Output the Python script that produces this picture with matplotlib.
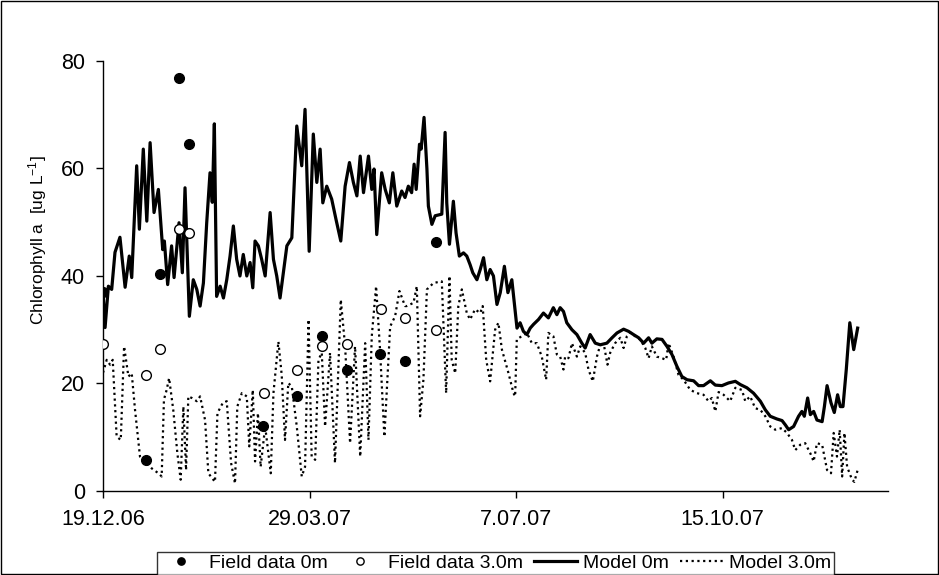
import matplotlib
matplotlib.use("Agg")
import matplotlib.pyplot as plt
from matplotlib.patches import Rectangle

plt.rcParams['font.family'] = ['Liberation Sans', 'DejaVu Sans']
plt.rcParams['mathtext.default'] = 'regular'

# days since 19.12.06
tick_days = [0, 100, 200, 300]
tick_labels = ['19.12.06', '29.03.07', '7.07.07', '15.10.07']

# field samples
f0_day = [0, 21, 27.6, 36.6, 41.6, 77.6, 94, 106, 118, 134, 146, 161]
f0_val = [37.0, 5.8, 40.3, 76.8, 64.5, 12.1, 17.6, 28.8, 22.6, 25.4, 24.2, 46.4]
f3_day = [0, 20.7, 27.6, 36.6, 41.8, 78, 94, 106, 118, 134.5, 146, 161]
f3_val = [27.4, 21.6, 26.5, 48.8, 48.0, 18.2, 22.6, 27.0, 27.4, 33.8, 32.2, 30.0]

# model, surface
m0_day = [0, 1, 2.6, 4.2, 5.8, 8.2, 10.7, 12.7, 13.9, 16.3, 17.6, 19.5, 21.2, 22.8,
          24.7, 26.8, 28.9, 29.7, 31.3, 33.2, 34.4, 36.8, 38.4, 39.7, 41.8, 43.7,
          45.4, 47, 48.6, 50.2, 51.8, 52.9, 53.9, 55, 56.7, 58.3, 59.9, 61.5, 63.1,
          64.7, 66.3, 67.9, 69.6, 71.2, 72.5, 73.6, 75.2, 76.8, 78.5, 80.9, 82.5,
          84.1, 85.7, 87.3, 89, 91.4, 93.8, 96.2, 97.8, 99.8, 101.8, 103.5, 105.1,
          106.4, 108.3, 110.7, 112.8, 115.1, 117.2, 119.3, 121.2, 122.9, 124.5,
          126.1, 128.5, 130.1, 131.2, 132.5, 134.9, 136.6, 138.6, 140.3, 142.2,
          144.6, 146.2, 147.8, 149.4, 150.6, 151.6, 153.2, 154, 155.4, 156.8, 157.5,
          159.2, 160.8, 164, 165.6, 166.4, 167.7, 169.6, 170.9, 172.5, 174.5, 176.1,
          177.7, 179, 181, 182.6, 184.2, 185.8, 187.4, 189, 190.7, 192.3, 194.3, 196,
          197.9, 200.4, 201.9, 203.5, 205.2, 206.8, 208.4, 210.8, 213.2, 215.6, 218,
          219.7, 221.3, 222.9, 224.5, 227, 229.4, 231.8, 233.4, 235.8, 238.3, 240.7,
          243.9, 246.4, 248.8, 252, 254.4, 256.8, 259.3, 261.7, 264.1, 265.7, 268.1,
          270.6, 273, 275.4, 277.8, 280.2, 282.7, 285.9, 288.3, 290.7, 294, 296.4,
          299.6, 302.8, 306.1, 308.5, 311.7, 314.9, 318.2, 320.6, 323, 326.2, 328.7,
          330.3, 331.9, 334.3, 336.7, 338.3, 339.5, 341.1, 342.4, 344, 345.6, 348.1,
          349.2, 350.5, 352.4, 354, 355.6, 356.9, 358.2, 359.8, 361.5, 363.4, 365.3]
m0_val = [37.0, 30.4, 38.1, 37.5, 44.4, 47.2, 37.9, 43.7, 39.7, 60.5, 48.7, 63.6, 50.2, 64.8,
          51.8, 56.1, 44.9, 46.5, 38.4, 45.6, 39.7, 49.9, 40.6, 56.4, 32.5, 39.3,
          37.5, 34.4, 38.7, 49.9, 59.2, 53.7, 68.3, 36.2, 38.1, 35.9, 39.3, 43.7, 49.3,
          43.1, 40.0, 44.0, 40.0, 42.5, 37.8, 46.5, 45.6, 43.1, 40.0, 51.8, 43.1,
          40.0, 35.9, 40.6, 45.6, 47.1, 67.9, 60.5, 71.0, 44.6, 66.4, 57.4, 63.6,
          53.6, 56.7, 54.3, 50.5, 46.5, 56.7, 61.1, 57.4, 54.9, 62.3,
          55.5, 62.3, 56.1, 59.9, 47.7, 59.2, 56.1, 53.6, 59.2, 53.0,
          55.8, 54.6, 56.7, 55.5, 60.8, 56.1, 64.5, 63.6, 69.5, 59.9, 53.0,
          49.6, 51.2, 51.5, 66.7, 53.6, 45.9, 53.9, 48.0, 43.7, 44.3, 43.7,
          42.1, 40.6, 39.3, 41.2, 43.4, 39.3, 41.2, 40.0, 34.7, 36.9, 41.8, 36.9,
          39.3, 30.3, 31.3, 29.7, 29.1, 30.3, 31.0, 31.9, 33.1, 32.2, 34.1,
          32.8, 34.1, 33.4, 31.3, 30.0, 29.1, 27.5, 26.6, 29.1, 27.5, 27.2,
          27.5, 28.5, 29.4, 30.1, 29.7, 29.1, 28.5, 27.5, 28.5, 27.5, 28.3,
          28.2, 26.9, 25.4, 23.2, 21.3, 20.7, 20.5, 19.6, 19.6, 20.5, 19.7,
          19.6, 20.1, 20.4, 19.8, 19.2, 18.2, 16.7, 15.1, 13.9, 13.4, 13.1,
          12.3, 11.4, 12.0, 13.9, 14.8, 13.9, 17.3, 14.2, 14.8, 13.2, 12.9,
          15.7, 19.6, 16.4, 14.6, 17.9, 15.7, 15.7, 22.6, 31.3, 26.3, 30.3]

# model, 3.0 m depth
m3_day = [0, 1.8, 3.4, 4.7, 6.6, 8.6, 10.2, 12.3, 13.9, 15.5, 17.9, 20.3, 23.6, 26.8,
          28.4, 29.5, 30.8, 32, 34, 36, 37.6, 38.9, 40.2, 41.3, 43, 45.4, 47, 49.4,
          51, 54.2, 55.4, 58, 59.9, 62, 63.9, 65, 67.2, 69.6, 70.8, 72.5, 73.6, 75,
          76.3, 78.5, 81.2, 82.5, 84.9, 86.5, 88.1, 89.7, 91.4, 93.8, 96.2, 97.8,
          99.5, 101, 102.7, 104.3, 105.9, 107.5, 109.9, 112.3, 115.1, 117.2, 119.6,
          122, 124.5, 126.9, 128.5, 130.1, 132.2, 134.1, 136.2, 139, 141.4, 143.5,
          146.2, 147, 150.3, 151.9, 153.5, 155.1, 156.8, 160, 164, 166.1, 167.7,
          168.8, 170.5, 172, 173.7, 176.1, 177.7, 180.1, 182.6, 183.8, 185.5, 187.4,
          189.8, 191.4, 193.1, 196.3, 198.7, 199.5, 200.3, 202.7, 205.2, 207.6, 210,
          212.4, 214.5, 215.6, 218, 219.7, 221.3, 222.9, 223.7, 225.3, 227, 229.4,
          231, 233.4, 235, 237.1, 239.1, 240.7, 242.6, 244.2, 245.5, 247.9, 250.4,
          252, 253.6, 255.2, 257.6, 260, 262.5, 264.1, 265.7, 268.1, 270.6, 272.6,
          273.8, 276.2, 278.6, 281, 284.3, 287.5, 290.7, 293.1, 294.7, 296.4, 298,
          300.4, 303.6, 306.1, 309.3, 310.9, 313.3, 315.7, 318.2, 320.6, 323, 325.4,
          328.7, 331.1, 333.5, 335.1, 337.5, 339.9, 342.4, 344, 345.6, 348.1, 350.5,
          352.4, 353.7, 355.3, 356.6, 357.8, 358.9, 360.2, 362.6, 363.7, 365.3]
m3_val = [22.0, 24.4, 23.5, 24.4, 10.1, 9.5, 26.9, 21.3, 21.9, 15.1, 6.4, 5.5, 4.2, 3.3,
          2.7, 17.0, 18.8, 21.0, 15.1, 7.0, 2.1, 15.7, 3.9, 17.6, 17.3, 16.7, 17.6, 13.2,
          3.3, 1.7, 14.5, 16.4, 16.7, 5.2, 1.4, 15.7, 18.2, 17.6, 8.3, 18.8, 5.5, 14.5,
          4.5, 12.0, 3.3, 18.2, 27.8, 21.6, 9.5, 20.1, 19.4, 12.0, 2.7, 4.5,
          31.9, 6.4, 5.8, 24.4, 25.7, 12.0, 25.7, 5.2, 35.6, 26.9, 8.9,
          26.9, 6.4, 27.5, 9.5, 28.8, 38.1, 26.3, 10.1, 30.6, 32.5, 37.2,
          34.4, 34.4, 35.0, 38.1, 13.9, 20.7, 37.5, 38.7, 39.0, 18.2, 40.0,
          24.4, 21.9, 34.4, 37.5, 33.1, 31.9, 33.8, 33.1, 34.4, 24.4, 20.4,
          30.0, 31.3, 26.3, 21.9, 18.2, 17.6, 28.2, 28.8, 29.4, 27.5, 27.5,
          25.0, 20.7, 29.4, 28.8, 25.4, 25.0, 22.6, 25.0, 24.7, 27.5, 25.0,
          26.9, 25.7, 22.6, 20.4, 25.0, 27.2, 26.9, 23.5, 25.7, 27.5, 28.5,
          26.6, 28.8, 29.5, 28.8, 28.2, 26.6, 24.7, 26.9, 25.0, 24.7, 24.4,
          27.5, 25.0, 21.6, 20.7, 18.8, 18.2, 17.9, 16.7, 17.3, 14.8, 18.4,
          17.9, 16.7, 19.2, 18.8, 16.7, 17.6, 15.4, 15.1, 13.9, 12.0, 11.4,
          11.7, 10.8, 9.5, 7.6, 8.6, 8.9, 7.0, 5.5, 8.9, 8.6, 3.9,
          3.3, 10.8, 6.4, 11.4, 2.7, 10.8, 4.5, 2.1, 1.7, 3.9]

fig = plt.figure(figsize=(9.39, 5.75), dpi=100)
ax = fig.add_axes([0.1097, 0.1461, 0.8360, 0.7479])

ax.plot(m3_day, m3_val, color='black', lw=1.6, linestyle=(0, (1, 1.6)), label='Model 3.0m')
ax.plot(m0_day, m0_val, color='black', lw=2.3, label='Model 0m')
ax.plot(f0_day, f0_val, 'o', color='black', ms=7, label='Field data 0m', zorder=5)
ax.plot(f3_day, f3_val, 'o', mfc='white', mec='black', mew=1, ms=7,
        label='Field data 3.0m', zorder=5)

ax.set_xlim(0, 380)
ax.set_ylim(0, 80)
ax.set_yticks([0, 20, 40, 60, 80])
ax.set_xticks(tick_days)
ax.set_xticklabels(tick_labels)
ax.tick_params(axis='both', direction='out', length=5, width=1, labelsize=15.5, colors='black')
ax.tick_params(axis='y', pad=8)
ax.tick_params(axis='x', pad=8)
for s in ['top', 'right']:
    ax.spines[s].set_visible(False)
for s in ['left', 'bottom']:
    ax.spines[s].set_linewidth(1)

fig.text(38 / 939, 1 - 240 / 575, 'Chlorophyll a  [ug L$^{-1}$]', rotation=90,
         ha='center', va='center', fontsize=12.5)

handles, labels = ax.get_legend_handles_labels()
order = [2, 3, 1, 0]
leg = fig.legend([handles[i] for i in order], [labels[i] for i in order],
                 loc='lower center', bbox_to_anchor=(0.5277, 0.0), ncol=4,
                 fontsize=14, frameon=True, fancybox=False, edgecolor='black',
                 handlelength=2.2, handletextpad=0.3, columnspacing=0.6,
                 borderpad=0.15, borderaxespad=0.0, markerscale=0.75)
leg.get_frame().set_linewidth(1)

fig.patches.append(Rectangle((0.001, 0.001), 0.998, 0.997, transform=fig.transFigure,
                             fill=False, edgecolor='black', lw=1))

fig.savefig('out.png', dpi=100)
